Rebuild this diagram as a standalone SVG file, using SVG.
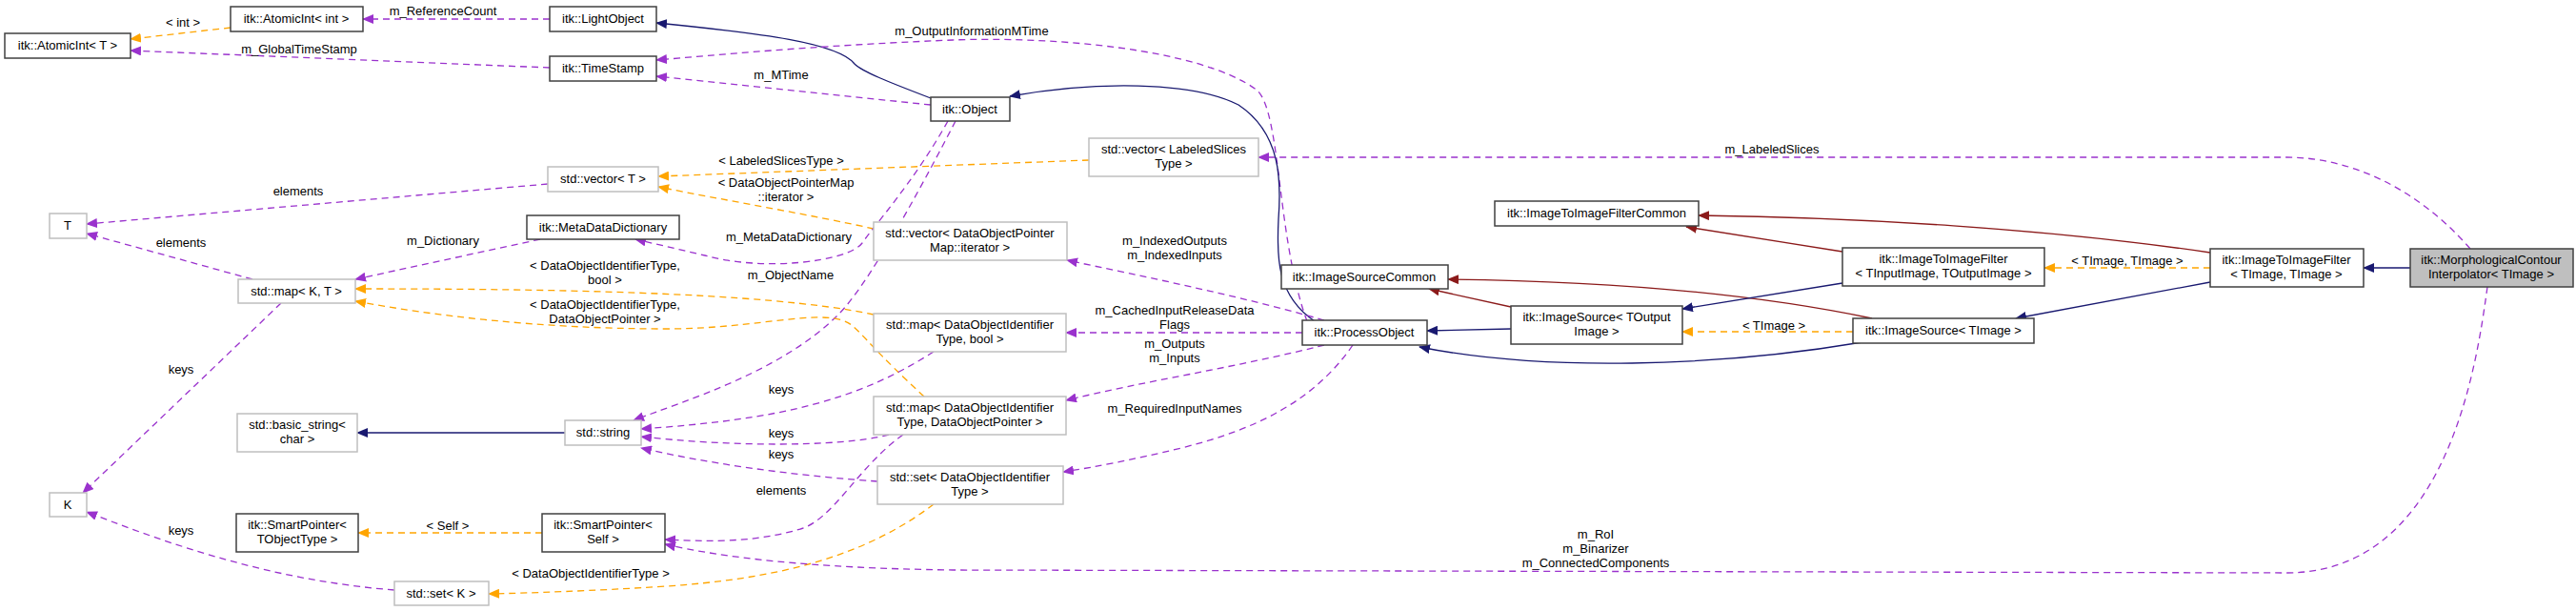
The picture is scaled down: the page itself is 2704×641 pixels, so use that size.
<svg xmlns="http://www.w3.org/2000/svg" width="2704" height="641" viewBox="0 0 2704 641">
<style>
text{font-family:"Liberation Sans",Arial,sans-serif;font-size:13px;fill:#000;text-anchor:middle}
.nb rect{fill:#fff;stroke:#404040;stroke-width:1.5}
.ng rect{fill:#fff;stroke:#bfbfbf;stroke-width:1.5}
.nm rect{fill:#bfbfbf;stroke:#404040;stroke-width:1.5}
#edges path{fill:none;stroke-width:1.3}
.p{stroke:#9a32cd;stroke-dasharray:7,5}
.o{stroke:#ffa500;stroke-dasharray:7,5}
.n{stroke:#191970}
.r{stroke:#8b1a1a}
</style>
<defs>
<marker id="mp" markerWidth="12" markerHeight="10" refX="11" refY="5" orient="auto" markerUnits="userSpaceOnUse"><path d="M0,0 L12,5 L0,10 z" fill="#9a32cd"/></marker>
<marker id="mo" markerWidth="12" markerHeight="10" refX="11" refY="5" orient="auto" markerUnits="userSpaceOnUse"><path d="M0,0 L12,5 L0,10 z" fill="#ffa500"/></marker>
<marker id="mn" markerWidth="12" markerHeight="10" refX="11" refY="5" orient="auto" markerUnits="userSpaceOnUse"><path d="M0,0 L12,5 L0,10 z" fill="#191970"/></marker>
<marker id="mr" markerWidth="12" markerHeight="10" refX="11" refY="5" orient="auto" markerUnits="userSpaceOnUse"><path d="M0,0 L12,5 L0,10 z" fill="#8b1a1a"/></marker>
</defs>
<rect width="2704" height="641" fill="#fff"/>
<g id="edges">
<path class="o" marker-end="url(#mo)" d="M242,29 L137,41"/>
<path class="p" marker-end="url(#mp)" d="M577,20 L381,20"/>
<path class="p" marker-end="url(#mp)" d="M577,71 L137,53"/>
<path class="n" marker-end="url(#mn)" d="M977,103 C930,85 905,75 897,67 C880,45 800,35 689,24"/>
<path class="p" marker-end="url(#mp)" d="M977,110 L689,80"/>
<path class="p" marker-end="url(#mp)" d="M1372,337 C1340,250 1345,120 1320,95 C1260,50 1100,38 1000,42 C850,48 750,58 689,63"/>
<path class="n" marker-end="url(#mn)" d="M1380,337 C1340,310 1340,270 1342,230 C1345,190 1345,140 1300,110 C1250,85 1150,85 1060,101"/>
<path class="o" marker-end="url(#mo)" d="M1143,168 L691,185"/>
<path class="o" marker-end="url(#mo)" d="M917,240 C850,225 760,210 691,196"/>
<path class="p" marker-end="url(#mp)" d="M2593,261 C2540,200 2470,165 2400,165 L1321,165"/>
<path class="p" marker-end="url(#mp)" d="M995,127 C960,190 915,240 905,255 C890,275 800,285 740,268 L667,251"/>
<path class="p" marker-end="url(#mp)" d="M1003,127 C960,210 910,300 880,330 C820,390 720,420 665,441"/>
<path class="p" marker-end="url(#mp)" d="M265,293 L91,245"/>
<path class="p" marker-end="url(#mp)" d="M575,193 L91,235"/>
<path class="p" marker-end="url(#mp)" d="M567,251 L373,293"/>
<path class="o" marker-end="url(#mo)" d="M917,330 C800,305 550,303 373,303"/>
<path class="o" marker-end="url(#mo)" d="M970,416 C920,370 905,350 895,342 C870,320 800,345 700,345 C560,345 450,330 373,316"/>
<path class="p" marker-end="url(#mp)" d="M295,318 L87,517"/>
<path class="p" marker-end="url(#mp)" d="M414,619 C300,610 200,580 91,537"/>
<path class="n" marker-end="url(#mn)" d="M593,454 L375,454"/>
<path class="p" marker-end="url(#mp)" d="M980,369 C900,420 820,440 673,450"/>
<path class="p" marker-end="url(#mp)" d="M933,456 C880,470 760,468 673,458"/>
<path class="p" marker-end="url(#mp)" d="M921,505 C850,500 760,490 673,470"/>
<path class="p" marker-end="url(#mp)" d="M948,456 C900,490 875,545 840,555 C790,570 740,568 698,566"/>
<path class="o" marker-end="url(#mo)" d="M569,559 L376,559"/>
<path class="o" marker-end="url(#mo)" d="M980,529 C900,590 800,608 700,615 C620,620 560,622 513,623"/>
<path class="p" marker-end="url(#mp)" d="M2611,301 C2600,380 2570,601 2400,601 L1000,598 C850,596 760,585 698,571"/>
<path class="p" marker-end="url(#mp)" d="M1390,336 C1300,310 1200,290 1120,273"/>
<path class="p" marker-end="url(#mp)" d="M1367,349 L1119,349"/>
<path class="p" marker-end="url(#mp)" d="M1390,362 C1300,385 1200,400 1119,420"/>
<path class="p" marker-end="url(#mp)" d="M1420,362 C1380,420 1320,450 1240,470 C1190,482 1150,490 1116,495"/>
<path class="n" marker-end="url(#mn)" d="M1586,345 L1498,347"/>
<path class="r" marker-end="url(#mr)" d="M1586,322 L1500,303"/>
<path class="r" marker-end="url(#mr)" d="M1965,334 C1850,310 1700,295 1520,293"/>
<path class="o" marker-end="url(#mo)" d="M1945,348 L1766,348"/>
<path class="n" marker-end="url(#mn)" d="M1955,359 C1800,385 1620,390 1490,364"/>
<path class="n" marker-end="url(#mn)" d="M1934,297 L1766,324"/>
<path class="r" marker-end="url(#mr)" d="M1934,264 L1770,238"/>
<path class="r" marker-end="url(#mr)" d="M2320,265 C2150,240 1950,228 1783,226"/>
<path class="o" marker-end="url(#mo)" d="M2320,281 L2146,281"/>
<path class="n" marker-end="url(#mn)" d="M2320,296 L2116,334"/>
<path class="n" marker-end="url(#mn)" d="M2530,281 L2481,281"/>
<text x="192" y="28">&lt; int &gt;</text>
<text x="465" y="16">m_ReferenceCount</text>
<text x="314" y="56">m_GlobalTimeStamp</text>
<text x="820" y="83">m_MTime</text>
<text x="1020" y="37">m_OutputInformationMTime</text>
<text x="820" y="173">&lt; LabeledSlicesType &gt;</text>
<text x="825" y="196">&lt; DataObjectPointerMap</text>
<text x="825" y="211">::iterator &gt;</text>
<text x="1860" y="161">m_LabeledSlices</text>
<text x="828" y="253">m_MetaDataDictionary</text>
<text x="830" y="293">m_ObjectName</text>
<text x="190" y="259">elements</text>
<text x="313" y="205">elements</text>
<text x="465" y="257">m_Dictionary</text>
<text x="635" y="283">&lt; DataObjectIdentifierType,</text>
<text x="635" y="298">bool &gt;</text>
<text x="635" y="324">&lt; DataObjectIdentifierType,</text>
<text x="635" y="339">DataObjectPointer &gt;</text>
<text x="190" y="392">keys</text>
<text x="190" y="561">keys</text>
<text x="820" y="413">keys</text>
<text x="820" y="459">keys</text>
<text x="820" y="481">keys</text>
<text x="820" y="519">elements</text>
<text x="470" y="556">&lt; Self &gt;</text>
<text x="620" y="606">&lt; DataObjectIdentifierType &gt;</text>
<text x="1675" y="565">m_RoI</text>
<text x="1675" y="580">m_Binarizer</text>
<text x="1675" y="595">m_ConnectedComponents</text>
<text x="1233" y="257">m_IndexedOutputs</text>
<text x="1233" y="272">m_IndexedInputs</text>
<text x="1233" y="330">m_CachedInputReleaseData</text>
<text x="1233" y="345">Flags</text>
<text x="1233" y="365">m_Outputs</text>
<text x="1233" y="380">m_Inputs</text>
<text x="1233" y="433">m_RequiredInputNames</text>
<text x="1862" y="346">&lt; TImage &gt;</text>
<text x="2233" y="278">&lt; TImage, TImage &gt;</text>
</g>
<g id="n1" class="nb"><rect x="5" y="35" width="132" height="26"/><text x="71" y="52">itk::AtomicInt&lt; T &gt;</text></g>
<g id="n2" class="nb"><rect x="242" y="7" width="139" height="26"/><text x="311" y="24">itk::AtomicInt&lt; int &gt;</text></g>
<g id="n3" class="nb"><rect x="577" y="7" width="112" height="26"/><text x="633" y="24">itk::LightObject</text></g>
<g id="n4" class="nb"><rect x="577" y="59" width="112" height="26"/><text x="633" y="76">itk::TimeStamp</text></g>
<g id="n5" class="ng"><rect x="575" y="175" width="116" height="26"/><text x="633" y="192">std::vector&lt; T &gt;</text></g>
<g id="n6" class="ng"><rect x="52" y="224" width="39" height="26"/><text x="71" y="241">T</text></g>
<g id="n7" class="nb"><rect x="553" y="226" width="160" height="25"/><text x="633" y="243">itk::MetaDataDictionary</text></g>
<g id="n8" class="ng"><rect x="250" y="293" width="123" height="25"/><text x="311" y="310">std::map&lt; K, T &gt;</text></g>
<g id="n9" class="ng"><rect x="249" y="434" width="126" height="40"/><text x="312" y="450">std::basic_string&lt;</text><text x="312" y="465">char &gt;</text></g>
<g id="n10" class="ng"><rect x="593" y="441" width="80" height="26"/><text x="633" y="458">std::string</text></g>
<g id="n11" class="ng"><rect x="52" y="517" width="39" height="25"/><text x="71" y="534">K</text></g>
<g id="n12" class="nb"><rect x="248" y="539" width="128" height="40"/><text x="312" y="555">itk::SmartPointer&lt;</text><text x="312" y="570">TObjectType &gt;</text></g>
<g id="n13" class="nb"><rect x="569" y="539" width="129" height="40"/><text x="633" y="555">itk::SmartPointer&lt;</text><text x="633" y="570">Self &gt;</text></g>
<g id="n14" class="ng"><rect x="414" y="610" width="99" height="25"/><text x="463" y="627">std::set&lt; K &gt;</text></g>
<g id="n15" class="nb"><rect x="977" y="102" width="83" height="25"/><text x="1018" y="119">itk::Object</text></g>
<g id="n16" class="ng"><rect x="1143" y="145" width="178" height="40"/><text x="1232" y="161">std::vector&lt; LabeledSlices</text><text x="1232" y="176">Type &gt;</text></g>
<g id="n17" class="ng"><rect x="917" y="233" width="203" height="40"/><text x="1018" y="249">std::vector&lt; DataObjectPointer</text><text x="1018" y="264">Map::iterator &gt;</text></g>
<g id="n18" class="ng"><rect x="917" y="329" width="202" height="40"/><text x="1018" y="345">std::map&lt; DataObjectIdentifier</text><text x="1018" y="360">Type, bool &gt;</text></g>
<g id="n19" class="ng"><rect x="917" y="416" width="202" height="40"/><text x="1018" y="432">std::map&lt; DataObjectIdentifier</text><text x="1018" y="447">Type, DataObjectPointer &gt;</text></g>
<g id="n20" class="ng"><rect x="921" y="489" width="195" height="40"/><text x="1018" y="505">std::set&lt; DataObjectIdentifier</text><text x="1018" y="520">Type &gt;</text></g>
<g id="n21" class="nb"><rect x="1367" y="336" width="131" height="26"/><text x="1432" y="353">itk::ProcessObject</text></g>
<g id="n22" class="nb"><rect x="1345" y="278" width="175" height="25"/><text x="1432" y="295">itk::ImageSourceCommon</text></g>
<g id="n23" class="nb"><rect x="1569" y="211" width="214" height="26"/><text x="1676" y="228">itk::ImageToImageFilterCommon</text></g>
<g id="n24" class="nb"><rect x="1934" y="260" width="212" height="40"/><text x="2040" y="276">itk::ImageToImageFilter</text><text x="2040" y="291">&lt; TInputImage, TOutputImage &gt;</text></g>
<g id="n25" class="nb"><rect x="1586" y="321" width="180" height="40"/><text x="1676" y="337">itk::ImageSource&lt; TOutput</text><text x="1676" y="352">Image &gt;</text></g>
<g id="n26" class="nb"><rect x="1945" y="334" width="190" height="26"/><text x="2040" y="351">itk::ImageSource&lt; TImage &gt;</text></g>
<g id="n27" class="nb"><rect x="2320" y="261" width="161" height="40"/><text x="2400" y="277">itk::ImageToImageFilter</text><text x="2400" y="292">&lt; TImage, TImage &gt;</text></g>
<g id="n28" class="nm"><rect x="2530" y="261" width="171" height="40"/><text x="2615" y="277">itk::MorphologicalContour</text><text x="2615" y="292">Interpolator&lt; TImage &gt;</text></g>
</svg>
